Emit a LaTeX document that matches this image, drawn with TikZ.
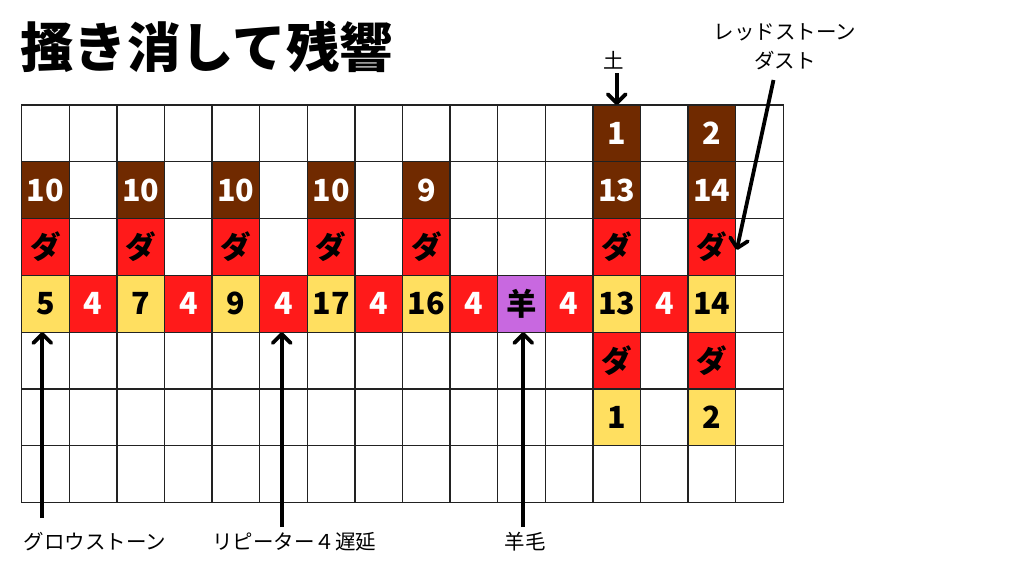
\documentclass[tikz,border=0pt]{standalone}
\usepackage{fontspec}
\setmainfont{Noto Sans CJK JP}
\usetikzlibrary{arrows.meta}
\definecolor{brn}{HTML}{702A00}
\definecolor{rdc}{HTML}{FF1A1A}
\definecolor{ylw}{HTML}{FFDF60}
\definecolor{ppl}{HTML}{C868E0}
\definecolor{gline}{HTML}{222222}
\newcommand\CW{47.6}
\newcommand\CH{56.8}
\newcommand\GX{21.7}
\newcommand\GY{105}
\newcommand\mycell[4]{\node[#3] (c#1-#2) at ({\GX+(#2+0.5)*\CW},{\GY+(#1+0.5)*\CH}) {#4};}
\begin{document}
\begin{tikzpicture}[x=1pt,y=-1pt,
  cellbox/.style={minimum width=47.6pt, minimum height=56.8pt, inner sep=0pt, outer sep=0pt,
    font=\fontsize{30.5}{30.5}\selectfont\bfseries},
  brw/.style={cellbox, fill=brn, text=white},
  rdw/.style={cellbox, fill=rdc, text=white},
  rdk/.style={cellbox, fill=rdc, text=black},
  ylk/.style={cellbox, fill=ylw, text=black},
  ppk/.style={cellbox, fill=ppl, text=black},
  gridline/.style={draw=gline, line width=1.3pt, line cap=rect},
  lbl/.style={font=\fontsize{20.5}{29}\selectfont, inner sep=0pt, text=black},
  arr/.style={line width=3.8pt, -{Straight Barb[length=9pt,width=18pt,round]}}
]
\useasboundingbox (0,0) rectangle (1024,576);
\fill[white] (0,0) rectangle (1024,576);

% title
\node[font=\fontsize{53.5}{53.5}\selectfont\bfseries, anchor=west, inner sep=0pt] (title) at (20,47) {搔き消して残響};

% row 0
\mycell{0}{12}{brw}{1}
\mycell{0}{14}{brw}{2}
% row 1
\mycell{1}{0}{brw}{10}
\mycell{1}{2}{brw}{10}
\mycell{1}{4}{brw}{10}
\mycell{1}{6}{brw}{10}
\mycell{1}{8}{brw}{9}
\mycell{1}{12}{brw}{13}
\mycell{1}{14}{brw}{14}
% row 2
\mycell{2}{0}{rdk}{ダ}
\mycell{2}{2}{rdk}{ダ}
\mycell{2}{4}{rdk}{ダ}
\mycell{2}{6}{rdk}{ダ}
\mycell{2}{8}{rdk}{ダ}
\mycell{2}{12}{rdk}{ダ}
\mycell{2}{14}{rdk}{ダ}
% row 3
\mycell{3}{0}{ylk}{5}
\mycell{3}{1}{rdw}{4}
\mycell{3}{2}{ylk}{7}
\mycell{3}{3}{rdw}{4}
\mycell{3}{4}{ylk}{9}
\mycell{3}{5}{rdw}{4}
\mycell{3}{6}{ylk}{17}
\mycell{3}{7}{rdw}{4}
\mycell{3}{8}{ylk}{16}
\mycell{3}{9}{rdw}{4}
\mycell{3}{10}{ppk}{羊}
\mycell{3}{11}{rdw}{4}
\mycell{3}{12}{ylk}{13}
\mycell{3}{13}{rdw}{4}
\mycell{3}{14}{ylk}{14}
% row 4
\mycell{4}{12}{rdk}{ダ}
\mycell{4}{14}{rdk}{ダ}
% row 5
\mycell{5}{12}{ylk}{1}
\mycell{5}{14}{ylk}{2}

% grid
\foreach \i in {0,...,16} \draw[gridline] ({\GX+\i*\CW},\GY) -- ({\GX+\i*\CW},{\GY+7*\CH});
\foreach \j in {0,...,7} \draw[gridline] (\GX,{\GY+\j*\CH}) -- ({\GX+16*\CW},{\GY+\j*\CH});

% labels
\node[lbl] (glow) at (95,542) {グロウストーン};
\node[lbl] (rep) at (294,542) {リピーター４遅延};
\node[lbl] (wool) at (525,542) {羊毛};
\node[lbl] (soil) at (614,60) {土};
\node[lbl, align=center] (dust) at (785,47) {レッドストーン\\ダスト};

% arrows
\coordinate (glowtail) at (42.3,518);
\coordinate (reptail) at (281.7,527);
\coordinate (wooltail) at (523.3,527);
\coordinate (soiltail) at (616.7,73);
\coordinate (dusttail) at (773.5,80);
\draw[arr] (glowtail) -- (glowtail |- c3-0.south);
\draw[arr] (reptail) -- (reptail |- c3-5.south);
\draw[arr] (wooltail) -- (wooltail |- c3-10.south);
\draw[arr] (soiltail) -- (soiltail |- c0-12.north);
\draw[arr] (dusttail) -- ([xshift=1pt,yshift=-3pt]c2-14.east);
\end{tikzpicture}
\end{document}
